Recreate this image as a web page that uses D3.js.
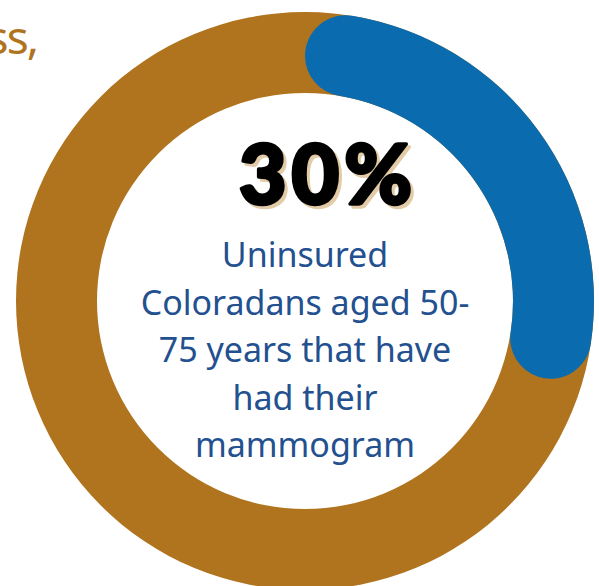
<!DOCTYPE html>
<html>
<head>
<meta charset="utf-8">
<script src="https://cdn.jsdelivr.net/npm/d3@7"></script>
<style>
  html, body { margin: 0; padding: 0; background: #fff; overflow: hidden; }
  svg { display: block; }
</style>
</head>
<body>
<svg id="donut" width="599" height="586"></svg>
<script>
var percentValue = [30];
var totalValue = [100];
var labelLines = ["Uninsured", "Coloradans aged 50-", "75 years that have", "had their", "mammogram"];
var headerFragment = ["ss,"];

var width = 599, height = 586;
var cx = 305, cy = 301;
var outerR = 289, innerR = 208;

var svg = d3.select("#donut");

// partial heading text cut off at the left
svg.append("text")
    .attr("x", 37)
    .attr("y", 54)
    .attr("text-anchor", "end")
    .attr("fill", "#B0731E")
    .style("font-family", "'Noto Sans', sans-serif")
    .style("font-size", "46px")
    .style("letter-spacing", "-2px")
    .text(headerFragment[0]);

var g = svg.append("g")
    .attr("transform", "translate(" + cx + "," + cy + ")");

var angle = d3.scaleLinear()
    .domain([0, totalValue[0]])
    .range([0, 2 * Math.PI]);

// background ring
g.append("path")
    .attr("d", d3.arc()
        .innerRadius(innerR)
        .outerRadius(outerR)
        .startAngle(0)
        .endAngle(2 * Math.PI)())
    .attr("fill", "#B0731E");

// value arc with round caps
g.append("path")
    .attr("d", d3.arc()
        .innerRadius(innerR)
        .outerRadius(outerR)
        .cornerRadius((outerR - innerR) / 2)
        .startAngle(0)
        .endAngle(angle(percentValue[0]))())
    .attr("fill", "#0A6BAF");

// big number with offset shadow, stroked to look heavier
var big = percentValue[0] + "%";
[{dx: 26, dy: -94, c: "#E2CBA6"}, {dx: 23, dy: -97, c: "#000"}].forEach(function (s) {
    g.append("text")
        .attr("x", s.dx)
        .attr("y", s.dy)
        .attr("text-anchor", "middle")
        .attr("fill", s.c)
        .attr("stroke", s.c)
        .attr("stroke-width", 3.5)
        .attr("stroke-linejoin", "round")
        .style("font-family", "Lato, sans-serif")
        .style("font-weight", "900")
        .style("font-size", "82px")
        .style("letter-spacing", "5px")
        .text(big);
});

var label = g.append("text")
    .attr("text-anchor", "middle")
    .attr("fill", "#23508F")
    .style("font-family", "'Noto Sans', sans-serif")
    .style("font-size", "34px");

label.selectAll("tspan")
    .data(labelLines)
    .enter().append("tspan")
    .attr("x", 0)
    .attr("y", function (d, i) {
        return -34 + i * 47.5;
    })
    .text(function (d) {
        return d;
    });
</script>
</body>
</html>
